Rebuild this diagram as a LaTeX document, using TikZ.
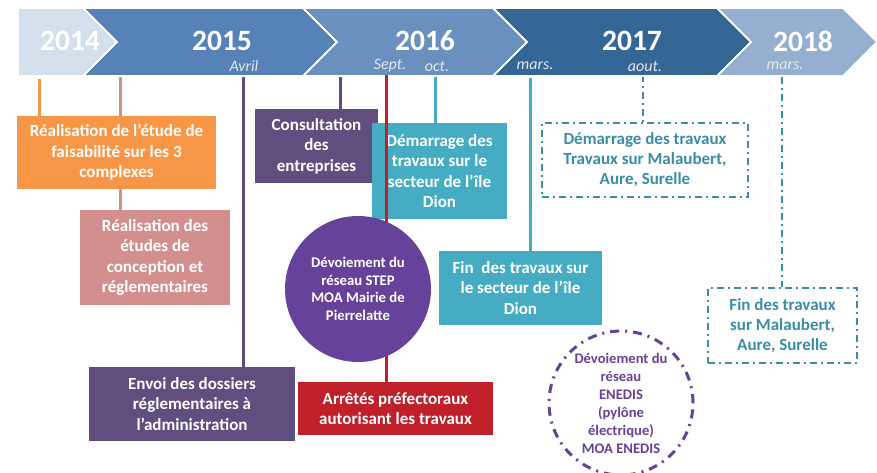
\documentclass[tikz,border=0pt]{standalone}
\usepackage{fontspec}
\setmainfont{Carlito}
\usetikzlibrary{backgrounds}

\definecolor{c14}{HTML}{D3E0EC}
\definecolor{c15}{HTML}{5682B8}
\definecolor{c16}{HTML}{6A90BF}
\definecolor{c17}{HTML}{356796}
\definecolor{c18}{HTML}{95AFD0}
\definecolor{orangec}{HTML}{F79646}
\definecolor{pinkc}{HTML}{D38F8D}
\definecolor{violc}{HTML}{5F4E7E}
\definecolor{redc}{HTML}{C0202A}
\definecolor{tealc}{HTML}{45ACC3}
\definecolor{tealdk}{HTML}{3A8DA6}
\definecolor{purplec}{HTML}{67429A}
\definecolor{monthc}{HTML}{E2E8F0}

\tikzset{
  yearseg/.style={draw=white,line width=1.6pt},
  yearlbl/.style={text=white,inner sep=0pt,font=\bfseries\fontsize{29.5}{31}\selectfont},
  monthlbl/.style={text=monthc,inner sep=0pt,font=\itshape\fontsize{16}{18}\selectfont},
  evbox/.style={rectangle,inner sep=0pt,align=center,text=white,
    font=\bfseries\fontsize{17}{20.5}\selectfont},
  dashbox/.style={rectangle,inner sep=0pt,align=center,text=tealdk,draw=tealdk,
    line width=2.5pt,dash pattern=on 7pt off 4pt on 2pt off 4pt,
    font=\bfseries\fontsize{17}{20}\selectfont},
  stem/.style={line width=3pt},
  dashstem/.style={line width=2.5pt,draw=tealdk,dash pattern=on 7pt off 4pt on 2pt off 4pt},
}

\begin{document}
\begin{tikzpicture}[x=1pt,y=1pt,yscale=-1,xscale=1]
\useasboundingbox (0,0) rectangle (877,472);

%% banner
\fill[c14,yearseg] (18,8) -- (83,8) -- (117,42) -- (83,76) -- (18,76) -- cycle;
\fill[c15,yearseg] (83,8) -- (303,8) -- (337,42) -- (303,76) -- (83,76) -- (117,42) -- cycle;
\fill[c16,yearseg] (303,8) -- (493,8) -- (527,42) -- (493,76) -- (303,76) -- (337,42) -- cycle;
\fill[c17,yearseg] (493,8) -- (717,8) -- (751,42) -- (717,76) -- (493,76) -- (527,42) -- cycle;
\fill[c18,yearseg] (717,8) -- (843,8) -- (877,42) -- (843,76) -- (717,76) -- (751,42) -- cycle;
\draw[yearseg] (83,8) -- (117,42) -- (83,76);
\draw[yearseg] (303,8) -- (337,42) -- (303,76);
\draw[yearseg] (493,8) -- (527,42) -- (493,76);
\draw[yearseg] (717,8) -- (751,42) -- (717,76);

% years
\node[yearlbl] (y14) at (70,41) {2014};
\node[yearlbl] (y15) at (222,41) {2015};
\node[yearlbl] (y16) at (425,41) {2016};
\node[yearlbl] (y17) at (632,41) {2017};
\node[yearlbl] (y18) at (803,41) {2018};

% months
\node[monthlbl] (avril) at (244,66) {Avril};
\node[monthlbl] (sept) at (390,66) {Sept.};
\node[monthlbl] (oct) at (437,66) {oct.};
\node[monthlbl] (mars17) at (535,66) {mars.};
\node[monthlbl] (aout) at (645,66) {aout.};
\node[monthlbl] (mars18) at (785,66) {mars.};

% stem tops
\coordinate (t1) at (39,79);
\coordinate (t2) at (120,74);
\coordinate (t3) at (243,75);
\coordinate (t4) at (340,75);
\coordinate (t5) at (386,75);
\coordinate (t6) at (435,76);
\coordinate (t7) at (530,78);
\coordinate (t8) at (643,75);
\coordinate (t9) at (782,77);

%% events
\node[evbox,fill=orangec,minimum width=199pt,minimum height=73pt] (faisab) at (116.5,152.5)
  {Réalisation de l’étude de\\faisabilité sur les 3\\complexes};
\node[evbox,fill=pinkc,minimum width=150pt,minimum height=95pt] (concept) at (155,257.5)
  {Réalisation des\\études de\\conception et\\réglementaires};
\node[evbox,fill=violc,minimum width=206pt,minimum height=74pt] (envoi) at (192,404)
  {Envoi des dossiers\\réglementaires à\\l’administration};
\node[evbox,fill=violc,minimum width=123pt,minimum height=74pt] (consult) at (316.5,146)
  {Consultation\\des\\entreprises};
\node[evbox,fill=redc,minimum width=195pt,minimum height=53pt] (arrete) at (395.5,408.5)
  {Arrêtés préfectoraux\\autorisant les travaux};
\node[evbox,fill=tealc,minimum width=135pt,minimum height=96pt] (demdion) at (439.5,171)
  {Démarrage des\\travaux sur le\\secteur de l’île\\Dion};
\node[evbox,fill=tealc,minimum width=163pt,minimum height=74pt] (findion) at (520.5,288)
  {Fin\ \ des travaux sur\\le secteur de l’île\\Dion};
\node[dashbox,minimum width=206pt,minimum height=74pt] (demmal) at (645,160)
  {Démarrage des travaux\\Travaux sur Malaubert,\\Aure, Surelle};
\node[dashbox,minimum width=149pt,minimum height=75pt] (finmal) at (782.5,325.5)
  {Fin des travaux\\sur Malaubert,\\Aure, Surelle};

% red stem over the teal box, under the circle
\draw[stem,redc] (t5) -- (t5 |- arrete.north);

\node[circle,fill=purplec,minimum size=146pt,inner sep=0pt,align=center,text=white,
  font=\bfseries\fontsize{14.7}{17.5}\selectfont] (step) at (358,289)
  {Dévoiement du\\réseau STEP\\MOA Mairie de\\Pierrelatte};
\node[circle,draw=purplec,line width=3pt,dash pattern=on 9pt off 6pt on 2pt off 6pt,
  minimum size=144pt,inner sep=0pt,align=center,text=purplec,
  font=\bfseries\fontsize{14.6}{18}\selectfont] (enedis) at (621,403)
  {Dévoiement du\\réseau\\ENEDIS\\(pylône\\électrique)\\MOA ENEDIS};

%% stems
\begin{scope}[on background layer]
\draw[stem,orangec] (t1) -- (t1 |- faisab.north);
\draw[stem,pinkc] (t2) -- (t2 |- concept.north);
\draw[stem,violc] (t3) -- (t3 |- envoi.north);
\draw[stem,violc] (t4) -- (t4 |- consult.north);
\draw[stem,tealc] (t6) -- (t6 |- demdion.north);
\draw[stem,tealc] (t7) -- (t7 |- findion.north);
\draw[dashstem] (t8) -- (t8 |- demmal.north);
\draw[dashstem] (t9) -- (t9 |- finmal.north);
\end{scope}

\end{tikzpicture}
\end{document}
